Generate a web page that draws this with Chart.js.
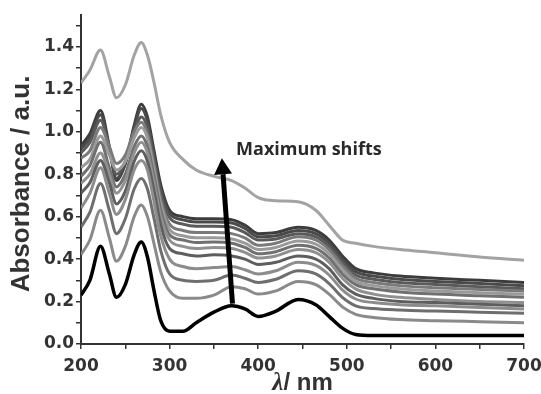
<!DOCTYPE html>
<html>
<head>
<meta charset="utf-8">
<script src="https://cdn.jsdelivr.net/npm/chart.js@4.4.1/dist/chart.umd.min.js"></script>
<style>
  html, body { margin: 0; padding: 0; background: #fff; }
  #wrap { width: 541px; height: 394px; }
</style>
</head>
<body>
<div id="wrap"><canvas id="myChart" width="541" height="394"></canvas></div>
<script>
// wavelengths (nm) where the spectra were read
const wavelength = [200, 210, 222, 232, 240, 250, 260, 268, 275, 282, 290, 300, 315, 330, 350, 370, 385, 400, 420, 445, 465, 480, 495, 510, 530, 560, 600, 650, 700];

// absorbance of each spectrum, bottom (black) to top (light grey)
const absBlack = [0.23, 0.30, 0.46, 0.33, 0.22, 0.28, 0.42, 0.48, 0.41, 0.26, 0.11, 0.06, 0.06, 0.10, 0.15, 0.18, 0.165, 0.13, 0.155, 0.21, 0.185, 0.13, 0.075, 0.045, 0.04, 0.04, 0.04, 0.04, 0.04];
const abs1 = [0.42, 0.49, 0.63, 0.50, 0.39, 0.46, 0.60, 0.655, 0.60, 0.48, 0.34, 0.25, 0.215, 0.215, 0.23, 0.27, 0.26, 0.235, 0.25, 0.295, 0.28, 0.235, 0.175, 0.14, 0.125, 0.115, 0.11, 0.105, 0.10];
const abs2 = [0.55, 0.62, 0.756, 0.63, 0.52, 0.59, 0.73, 0.78, 0.73, 0.60, 0.44, 0.33, 0.30, 0.295, 0.30, 0.325, 0.31, 0.29, 0.305, 0.345, 0.33, 0.285, 0.22, 0.18, 0.167, 0.16, 0.155, 0.15, 0.145];
const abs3 = [0.64, 0.71, 0.83, 0.71, 0.61, 0.68, 0.82, 0.865, 0.82, 0.68, 0.51, 0.40, 0.365, 0.355, 0.36, 0.365, 0.35, 0.33, 0.345, 0.385, 0.37, 0.325, 0.255, 0.212, 0.195, 0.185, 0.18, 0.172, 0.165];
const abs4 = [0.71, 0.76, 0.865, 0.76, 0.66, 0.72, 0.86, 0.91, 0.86, 0.73, 0.56, 0.45, 0.425, 0.415, 0.42, 0.415, 0.40, 0.375, 0.385, 0.415, 0.40, 0.355, 0.28, 0.235, 0.215, 0.20, 0.195, 0.187, 0.18];
const abs5 = [0.756, 0.80, 0.90, 0.80, 0.71, 0.77, 0.90, 0.95, 0.90, 0.77, 0.60, 0.49, 0.46, 0.45, 0.455, 0.45, 0.432, 0.405, 0.415, 0.445, 0.43, 0.385, 0.31, 0.26, 0.235, 0.22, 0.21, 0.20, 0.195];
const abs6 = [0.79, 0.84, 0.95, 0.83, 0.74, 0.80, 0.93, 0.98, 0.93, 0.80, 0.63, 0.515, 0.49, 0.478, 0.48, 0.475, 0.455, 0.425, 0.435, 0.465, 0.45, 0.405, 0.33, 0.28, 0.26, 0.245, 0.235, 0.227, 0.22];
const abs7 = [0.83, 0.87, 0.98, 0.89, 0.82, 0.86, 0.97, 1.02, 0.97, 0.83, 0.66, 0.54, 0.51, 0.50, 0.50, 0.495, 0.475, 0.445, 0.455, 0.485, 0.47, 0.425, 0.35, 0.295, 0.275, 0.26, 0.25, 0.242, 0.235];
const abs8 = [0.875, 0.91, 1.02, 0.93, 0.85, 0.89, 1.00, 1.045, 0.99, 0.85, 0.68, 0.565, 0.535, 0.525, 0.525, 0.52, 0.50, 0.465, 0.475, 0.505, 0.49, 0.445, 0.37, 0.31, 0.29, 0.275, 0.265, 0.257, 0.25];
const abs9 = [0.90, 0.95, 1.054, 0.92, 0.80, 0.86, 1.00, 1.07, 1.02, 0.88, 0.71, 0.595, 0.565, 0.555, 0.555, 0.55, 0.525, 0.49, 0.495, 0.52, 0.505, 0.46, 0.385, 0.325, 0.305, 0.29, 0.28, 0.27, 0.26];
const abs10 = [0.92, 0.97, 1.08, 0.92, 0.78, 0.85, 1.02, 1.11, 1.05, 0.90, 0.73, 0.615, 0.585, 0.575, 0.575, 0.57, 0.545, 0.505, 0.51, 0.535, 0.52, 0.475, 0.40, 0.34, 0.32, 0.305, 0.295, 0.285, 0.275];
const abs11 = [0.935, 0.99, 1.10, 0.93, 0.77, 0.85, 1.03, 1.13, 1.07, 0.92, 0.75, 0.63, 0.60, 0.59, 0.59, 0.585, 0.56, 0.52, 0.525, 0.55, 0.535, 0.49, 0.415, 0.355, 0.335, 0.32, 0.31, 0.30, 0.29];
const absTop = [1.23, 1.29, 1.385, 1.26, 1.16, 1.22, 1.36, 1.42, 1.36, 1.24, 1.08, 0.95, 0.87, 0.82, 0.79, 0.77, 0.735, 0.69, 0.675, 0.67, 0.63, 0.56, 0.49, 0.475, 0.46, 0.445, 0.43, 0.41, 0.395];

const spectra = [absBlack, abs1, abs2, abs3, abs4, abs5, abs6, abs7, abs8, abs9, abs10, abs11, absTop];
const lineColors = ['#000000', '#8a8a8a', '#6e6e6e', '#8c8c8c', '#5e5e5e', '#909090', '#707070', '#9a9a9a', '#7a7a7a', '#5a5a5a', '#4a4a4a', '#3c3c3c', '#a3a3a3'];

// arrow annotation (nm, absorbance)
const arrowFrom = [371, 0.19];
const arrowTo = [359, 0.875];
const noteText = 'Maximum shifts';
const notePos = [375, 0.89];

const datasets = spectra.map((vals, i) => ({
  label: 'spectrum ' + i,
  data: wavelength.map((w, j) => ({x: w, y: vals[j]})),
  borderColor: lineColors[i],
  borderWidth: i === 0 ? 3.5 : 3,
  pointRadius: 0,
  fill: false,
  cubicInterpolationMode: 'monotone'
}));

const textColor = '#2a2a2a';

const arrowPlugin = {
  id: 'arrowNote',
  afterDatasetsDraw(chart) {
    const c = chart.ctx;
    const xs = chart.scales.x, ys = chart.scales.y;
    const x1 = xs.getPixelForValue(arrowFrom[0]), y1 = ys.getPixelForValue(arrowFrom[1]);
    const x2 = xs.getPixelForValue(arrowTo[0]), y2 = ys.getPixelForValue(arrowTo[1]);
    const ang = Math.atan2(y2 - y1, x2 - x1);
    const headLen = 16, headW = 9;
    const bx = x2 - headLen * Math.cos(ang), by = y2 - headLen * Math.sin(ang);
    c.save();
    c.strokeStyle = '#000';
    c.fillStyle = '#000';
    c.lineWidth = 5;
    c.beginPath();
    c.moveTo(x1, y1);
    c.lineTo(bx, by);
    c.stroke();
    c.beginPath();
    c.moveTo(x2, y2);
    c.lineTo(bx + headW * Math.sin(ang), by - headW * Math.cos(ang));
    c.lineTo(bx - headW * Math.sin(ang), by + headW * Math.cos(ang));
    c.closePath();
    c.fill();
    // note
    c.fillStyle = textColor;
    c.font = 'bold 18px "Open Sans"';
    c.textBaseline = 'alphabetic';
    c.fillText(noteText, xs.getPixelForValue(notePos[0]), ys.getPixelForValue(notePos[1]));
    // x axis title with italic lambda
    const cx = (xs.left + xs.right) / 2;
    c.font = 'italic bold 25px "Liberation Serif"';
    const wl = c.measureText('λ').width;
    c.font = 'bold 24px "Liberation Sans"';
    const wr = c.measureText('/ nm').width;
    const startX = cx - (wl + wr) / 2;
    c.fillStyle = '#333';
    c.font = 'italic bold 25px "Liberation Serif"';
    c.fillText('λ', startX, 390);
    c.font = 'bold 24px "Liberation Sans"';
    c.fillText('/ nm', startX + wl, 390);
    // y axis title
    c.translate(22, 184);
    c.rotate(-Math.PI / 2);
    c.textAlign = 'center';
    c.textBaseline = 'middle';
    c.font = 'bold 26px "Liberation Sans"';
    c.fillText('Absorbance / a.u.', 0, 0);
    c.restore();
  }
};

const tickFont = { family: '"DejaVu Sans"', size: 17, weight: 'bold' };

const ctx = document.getElementById('myChart');
new Chart(ctx, {
  type: 'line',
  data: { datasets: datasets },
  plugins: [arrowPlugin],
  options: {
    responsive: false,
    animation: false,
    layout: { padding: { top: 15, right: 17, left: 0, bottom: 0 } },
    plugins: { legend: { display: false }, tooltip: { enabled: false } },
    scales: {
      x: {
        type: 'linear',
        min: 200,
        max: 700,
        afterFit: s => { s.height = 50; s.paddingLeft = 0; s.paddingRight = 0; },
        afterBuildTicks: s => {
          const t = [];
          for (let v = 200; v <= 700; v += 50) t.push({value: v});
          s.ticks = t;
        },
        ticks: {
          autoSkip: false,
          maxRotation: 0,
          color: '#333',
          padding: 7,
          font: tickFont,
          callback: v => (v % 100 === 0 ? String(v) : '')
        },
        grid: { drawOnChartArea: false, tickLength: 5, color: '#333', lineWidth: 1.5 },
        border: { color: '#333', width: 2 }
      },
      y: {
        min: 0,
        max: 1.55,
        afterFit: s => { s.width = 81; s.paddingTop = 0; s.paddingBottom = 0; },
        afterBuildTicks: s => {
          const t = [];
          for (let i = 0; i <= 15; i++) t.push({value: i / 10});
          s.ticks = t;
        },
        ticks: {
          autoSkip: false,
          color: '#333',
          padding: 2,
          font: tickFont,
          callback: v => (Math.round(v * 10) % 2 === 0 ? v.toFixed(1) : '')
        },
        grid: { drawOnChartArea: false, tickLength: 5, color: '#333', lineWidth: 1.5 },
        border: { color: '#333', width: 2 }
      }
    }
  }
});
</script>
</body>
</html>
